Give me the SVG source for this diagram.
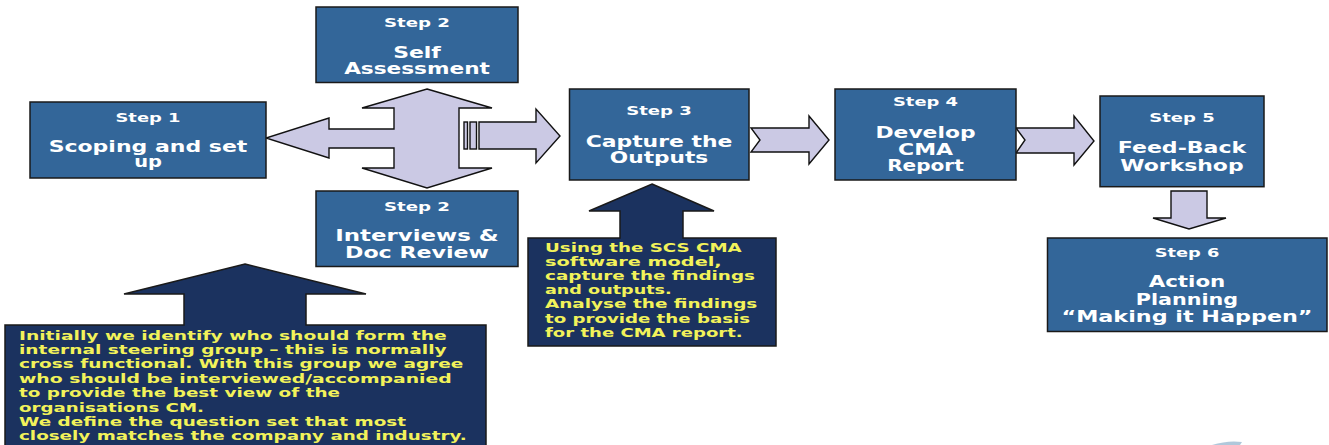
<svg xmlns="http://www.w3.org/2000/svg" width="1329" height="445" viewBox="0 0 1329 445">
<style>
.box{fill:#336699;stroke:#1a1a1a;stroke-width:1.5}
.call{fill:#1b325f;stroke:#1a1a1a;stroke-width:1.5}
.arr{fill:#cbc9e4;stroke:#111;stroke-width:1.4;stroke-linejoin:miter}
.st{font-family:"DejaVu Sans",Verdana,sans-serif;font-weight:bold;font-size:13px;fill:#ffffff;text-anchor:middle}
.mt{font-family:"DejaVu Sans",Verdana,sans-serif;font-weight:bold;font-size:16px;fill:#ffffff;text-anchor:middle}
.ct{font-family:"DejaVu Sans",Verdana,sans-serif;font-weight:bold;font-size:13px;fill:#f2f25a}
</style>
<rect width="1329" height="445" fill="#ffffff"/>
<g id="connectors">
  <path class="arr" d="M427,89 L492,108 L459,108 L459,168 L492,168 L427,188 L362,168 L394,168 L394,148 L329,148 L329,158 L266,138 L329,118 L329,129 L394,129 L394,108 L362,108 Z"/>
  <rect class="arr" x="464" y="122" width="3.5" height="27"/>
  <rect class="arr" x="470" y="122" width="6.5" height="27"/>
  <path class="arr" d="M479,122 L536,122 L536,109 L560,136 L536,163 L536,149 L479,149 Z"/>
  <path class="arr" d="M751,128 L809,128 L809,116 L829,140 L809,164 L809,152 L751,152 L760,140 Z"/>
  <path class="arr" d="M1016,128 L1074,128 L1074,116 L1094,141 L1074,165 L1074,153 L1016,153 L1025,140 Z"/>
  <path class="arr" d="M1171,191 L1207,191 L1207,218 L1226,218 L1189,229 L1153,218 L1171,218 Z"/>
</g>
<g id="step1">
  <rect class="box" x="30" y="102" width="236" height="76"/>
  <text class="st" x="148" y="121.7" textLength="65" lengthAdjust="spacingAndGlyphs">Step 1</text>
  <text class="mt" x="148" y="152.3" textLength="198.7" lengthAdjust="spacingAndGlyphs">Scoping and set</text>
  <text class="mt" x="148" y="167" textLength="27.7" lengthAdjust="spacingAndGlyphs">up</text>
</g>
<g id="step2a">
  <rect class="box" x="316" y="7" width="202" height="75.5"/>
  <text class="st" x="417" y="26.7" textLength="66" lengthAdjust="spacingAndGlyphs">Step 2</text>
  <text class="mt" x="417" y="58.3" textLength="47.7" lengthAdjust="spacingAndGlyphs">Self</text>
  <text class="mt" x="417" y="74" textLength="145.7" lengthAdjust="spacingAndGlyphs">Assessment</text>
</g>
<g id="step2b">
  <rect class="box" x="316" y="191" width="202" height="75.5"/>
  <text class="st" x="417" y="210.7" textLength="66" lengthAdjust="spacingAndGlyphs">Step 2</text>
  <text class="mt" x="417" y="241" textLength="163.3" lengthAdjust="spacingAndGlyphs">Interviews &amp;</text>
  <text class="mt" x="417" y="257.7" textLength="144" lengthAdjust="spacingAndGlyphs">Doc Review</text>
</g>
<g id="step3">
  <rect class="box" x="569.5" y="89" width="179.5" height="91"/>
  <text class="st" x="659" y="115" textLength="65.7" lengthAdjust="spacingAndGlyphs">Step 3</text>
  <text class="mt" x="659" y="146.7" textLength="146.7" lengthAdjust="spacingAndGlyphs">Capture the</text>
  <text class="mt" x="659" y="163.3" textLength="98.3" lengthAdjust="spacingAndGlyphs">Outputs</text>
</g>
<g id="step4">
  <rect class="box" x="835" y="89" width="181" height="91"/>
  <text class="st" x="925.5" y="105.7" textLength="65" lengthAdjust="spacingAndGlyphs">Step 4</text>
  <text class="mt" x="925.5" y="138.3" textLength="100" lengthAdjust="spacingAndGlyphs">Develop</text>
  <text class="mt" x="925.5" y="155" textLength="55" lengthAdjust="spacingAndGlyphs">CMA</text>
  <text class="mt" x="925.5" y="171" textLength="76.7" lengthAdjust="spacingAndGlyphs">Report</text>
</g>
<g id="step5">
  <rect class="box" x="1100" y="96" width="164" height="90.7"/>
  <text class="st" x="1182" y="122.3" textLength="65.3" lengthAdjust="spacingAndGlyphs">Step 5</text>
  <text class="mt" x="1182" y="153.3" textLength="128.3" lengthAdjust="spacingAndGlyphs">Feed-Back</text>
  <text class="mt" x="1182" y="171" textLength="123.3" lengthAdjust="spacingAndGlyphs">Workshop</text>
</g>
<g id="step6">
  <rect class="box" x="1047.5" y="238" width="279.5" height="93.5"/>
  <text class="st" x="1187" y="256.7" textLength="64.7" lengthAdjust="spacingAndGlyphs">Step 6</text>
  <text class="mt" x="1187" y="287.3" textLength="76.7" lengthAdjust="spacingAndGlyphs">Action</text>
  <text class="mt" x="1187" y="305" textLength="102.3" lengthAdjust="spacingAndGlyphs">Planning</text>
  <text class="mt" x="1187" y="322.3" textLength="251" lengthAdjust="spacingAndGlyphs">“Making it Happen”</text>
</g>
<g id="callout-scoping">
  <path class="call" d="M245,264 L366,294 L306,294 L306,325 L486,325 L486,450 L5,450 L5,325 L184,325 L184,294 L124,294 Z"/>
  <text class="ct" x="19" y="339.5" textLength="427.7" lengthAdjust="spacingAndGlyphs">Initially we identify who should form the</text>
  <text class="ct" x="19" y="353.9" textLength="427.7" lengthAdjust="spacingAndGlyphs">internal steering group – this is normally</text>
  <text class="ct" x="19" y="368.3" textLength="444.3" lengthAdjust="spacingAndGlyphs">cross functional. With this group we agree</text>
  <text class="ct" x="19" y="382.7" textLength="432.7" lengthAdjust="spacingAndGlyphs">who should be interviewed/accompanied</text>
  <text class="ct" x="19" y="397.1" textLength="321" lengthAdjust="spacingAndGlyphs">to provide the best view of the</text>
  <text class="ct" x="19" y="411.5" textLength="185" lengthAdjust="spacingAndGlyphs">organisations CM.</text>
  <text class="ct" x="19" y="425.9" textLength="387" lengthAdjust="spacingAndGlyphs">We define the question set that most</text>
  <text class="ct" x="19" y="440.3" textLength="447.7" lengthAdjust="spacingAndGlyphs">closely matches the company and industry.</text>
</g>
<g id="callout-capture">
  <path class="call" d="M652,184 L714,211 L683,211 L683,238 L776,238 L776,346 L528,346 L528,238 L620,238 L620,211 L589,211 Z"/>
  <text class="ct" x="545" y="251.5" textLength="196.7" lengthAdjust="spacingAndGlyphs">Using the SCS CMA</text>
  <text class="ct" x="545" y="265.7" textLength="176.7" lengthAdjust="spacingAndGlyphs">software model,</text>
  <text class="ct" x="545" y="279.9" textLength="210" lengthAdjust="spacingAndGlyphs">capture the findings</text>
  <text class="ct" x="545" y="294.1" textLength="126.7" lengthAdjust="spacingAndGlyphs">and outputs.</text>
  <text class="ct" x="545" y="308.3" textLength="212.3" lengthAdjust="spacingAndGlyphs">Analyse the findings</text>
  <text class="ct" x="545" y="322.5" textLength="205" lengthAdjust="spacingAndGlyphs">to provide the basis</text>
  <text class="ct" x="545" y="336.7" textLength="197.7" lengthAdjust="spacingAndGlyphs">for the CMA report.</text>
</g>
<path d="M1212,445 Q1228,440 1242,442 L1240,445 Z" fill="#8fb0cc" opacity="0.7"/>
</svg>
